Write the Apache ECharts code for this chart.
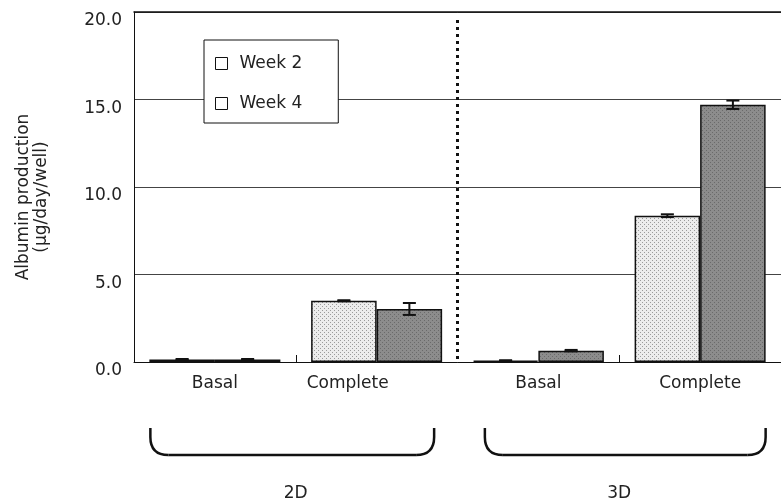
<!DOCTYPE html>
<html>
<head>
<meta charset="utf-8">
<script src="https://cdn.jsdelivr.net/npm/echarts@6/dist/echarts.min.js"></script>
<style>
  html, body { margin: 0; padding: 0; background: #fff; }
  #chart { width: 781px; height: 502px; }
</style>
</head>
<body>
<div id="chart"></div>
<script>
// Albumin production by culture condition (µg/day/well)
const categories = ['Basal', 'Complete', 'Basal', 'Complete'];
const groups = ['2D', '3D'];
const seriesNames = ['Week 2', 'Week 4'];
const week2 = [0.15, 3.50, 0.08, 8.36];
const week4 = [0.15, 3.03, 0.65, 14.70];
const week2Err = [0.02, 0.03, 0.02, 0.08];
const week4Err = [0.02, 0.34, 0.04, 0.24];
const yTicks = [0, 5, 10, 15, 20];

const FONT = '"DejaVu Sans", "Liberation Sans", Arial, sans-serif';
const FS = 17;
const CAT_GAP = 0.19;

// Stippled fills for the two bar series
function makePattern(bg, dot, step) {
  const c = document.createElement('canvas');
  c.width = step * 2; c.height = step * 2;
  const g = c.getContext('2d');
  g.fillStyle = bg; g.fillRect(0, 0, c.width, c.height);
  g.fillStyle = dot;
  g.fillRect(0, 0, 1, 1);
  g.fillRect(step, step, 1, 1);
  return c;
}
const fillWeek2 = { image: makePattern('#ececec', '#9a9a9a', 2), repeat: 'repeat' };
const fillWeek4 = { image: makePattern('#8c8c8c', '#6a6a6a', 2), repeat: 'repeat' };

function errorSeries(name, values, errs, side) {
  return {
    type: 'custom',
    name: name + ' error',
    z: 5,
    silent: true,
    data: values.map((v, i) => [i, v, errs[i]]),
    renderItem: function (params, api) {
      const i = api.value(0), v = api.value(1), e = api.value(2);
      const bandW = api.size([1, 0])[0];
      const barW = bandW * (1 - CAT_GAP) / 2;
      const cx = api.coord([i, v])[0] + side * barW / 2;
      const yHi = api.coord([i, v + e])[1];
      const yLo = api.coord([i, v - e])[1];
      const cap = 6.5;
      const st = { stroke: '#111', lineWidth: 2 };
      return {
        type: 'group',
        children: [
          { type: 'line', shape: { x1: cx, y1: yHi, x2: cx, y2: yLo }, style: st },
          { type: 'line', shape: { x1: cx - cap, y1: yHi, x2: cx + cap, y2: yHi }, style: st },
          { type: 'line', shape: { x1: cx - cap, y1: yLo, x2: cx + cap, y2: yLo }, style: st }
        ]
      };
    }
  };
}

const chart = echarts.init(document.getElementById('chart'), null, { renderer: 'canvas' });

const labelStyle = { fontFamily: FONT, fontSize: FS, color: '#222' };

const option = {
  animation: false,
  backgroundColor: '#fff',
  textStyle: { fontFamily: FONT },
  grid: { left: 134, right: 0, top: 12, bottom: 140 },
  legend: {
    data: seriesNames,
    orient: 'vertical',
    left: 204,
    top: 40,
    padding: [15, 36, 11, 11],
    itemGap: 23,
    itemWidth: 12,
    itemHeight: 12,
    backgroundColor: '#fff',
    borderColor: '#111',
    borderWidth: 1,
    borderRadius: 0,
    icon: 'rect',
    itemStyle: { color: '#fff', borderColor: '#111', borderWidth: 1 },
    textStyle: Object.assign({ padding: [0, 0, 0, 7] }, labelStyle)
  },
  xAxis: [
    {
      type: 'category',
      data: categories,
      position: 'bottom',
      axisLine: { lineStyle: { color: '#111', width: 1 } },
      axisTick: {
        show: true, inside: true, length: 7,
        interval: function (index) { return index === 1 || index === 3; },
        lineStyle: { color: '#111', width: 1 }
      },
      axisLabel: Object.assign({
        margin: 13,
        interval: 0,
        hideOverlap: false,
        // the 2D "Complete" caption sits under the Week 2 bar
        formatter: function (value, index) {
          return index === 1 ? '{left|' + value + '}' : value;
        },
        rich: { left: Object.assign({ padding: [0, 58, 0, 0] }, labelStyle) }
      }, labelStyle),
      splitLine: { show: false }
    },
    {
      type: 'category',
      data: groups,
      position: 'bottom',
      offset: 122,
      axisLine: { show: false },
      axisTick: { show: false },
      axisLabel: Object.assign({ margin: 1, interval: 0 }, labelStyle),
      splitLine: { show: false }
    },
    {
      type: 'category',
      data: categories,
      position: 'top',
      axisLine: { lineStyle: { color: '#111', width: 1.5 } },
      axisTick: { show: false },
      axisLabel: { show: false },
      splitLine: { show: false }
    }
  ],
  yAxis: {
    type: 'value',
    min: yTicks[0],
    max: yTicks[yTicks.length - 1],
    interval: 5,
    name: 'Albumin production\n(µg/day/well)',
    nameLocation: 'middle',
    nameGap: 83,
    nameRotate: 90,
    nameTextStyle: Object.assign({ lineHeight: 18, padding: [0, 20, 0, 0] }, labelStyle),
    axisLine: { show: true, lineStyle: { color: '#111', width: 1 } },
    axisTick: { show: false },
    axisLabel: Object.assign({
      margin: 12,
      verticalAlign: 'top', lineHeight: 18,
      formatter: function (v) { return v.toFixed(1); }
    }, labelStyle),
    splitLine: { show: true, lineStyle: { color: '#444', width: 1 } }
  },
  series: [
    {
      name: seriesNames[0],
      type: 'bar',
      data: week2,
      barGap: '0%',
      barCategoryGap: (CAT_GAP * 100) + '%',
      itemStyle: { color: fillWeek2, borderColor: '#111', borderWidth: 1.5 }
    },
    {
      name: seriesNames[1],
      type: 'bar',
      data: week4,
      barGap: '0%',
      barCategoryGap: (CAT_GAP * 100) + '%',
      itemStyle: { color: fillWeek4, borderColor: '#111', borderWidth: 1.5 }
    },
    errorSeries(seriesNames[0], week2, week2Err, -1),
    errorSeries(seriesNames[1], week4, week4Err, 1)
  ]
};

chart.setOption(option);

// Group braces and the 2D/3D divider, placed from the category axis scale
function px(catIndex, value) {
  return chart.convertToPixel({ xAxisIndex: 0, yAxisIndex: 0 }, [catIndex, value]);
}
const band = px(1, 0)[0] - px(0, 0)[0];
const barsHalf = band * (1 - CAT_GAP) / 2;
const yBase = px(0, 0)[1];
const yTop = px(0, 20)[1];
const divX = (px(1, 0)[0] + px(2, 0)[0]) / 2;

function brace(leftCat, rightCat, insetL, insetR) {
  const x1 = px(leftCat, 0)[0] - barsHalf + insetL;
  const x2 = px(rightCat, 0)[0] + barsHalf - insetR;
  const y1 = yBase + 66, y2 = yBase + 93, r = 18;
  const st = { fill: null, stroke: '#111', lineWidth: 2.5 };
  return {
    type: 'group',
    children: [
      { type: 'line', shape: { x1: x1, y1: y1, x2: x1, y2: y2 - r }, style: st },
      { type: 'bezierCurve', shape: { x1: x1, y1: y2 - r, cpx1: x1, cpy1: y2, x2: x1 + r, y2: y2 }, style: st },
      { type: 'line', shape: { x1: x1 + r, y1: y2, x2: x2 - r, y2: y2 }, style: st },
      { type: 'bezierCurve', shape: { x1: x2 - r, y1: y2, cpx1: x2, cpy1: y2, x2: x2, y2: y2 - r }, style: st },
      { type: 'line', shape: { x1: x2, y1: y2 - r, x2: x2, y2: y1 }, style: st }
    ]
  };
}

chart.setOption({
  graphic: [
    {
      type: 'line',
      shape: { x1: divX, y1: yTop + 8, x2: divX, y2: yBase },
      style: { stroke: '#111', lineWidth: 3, lineDash: [3, 4] },
      z: 10
    },
    brace(0, 1, 1, 8),
    brace(2, 3, 12, 0)
  ]
});
</script>
</body>
</html>
